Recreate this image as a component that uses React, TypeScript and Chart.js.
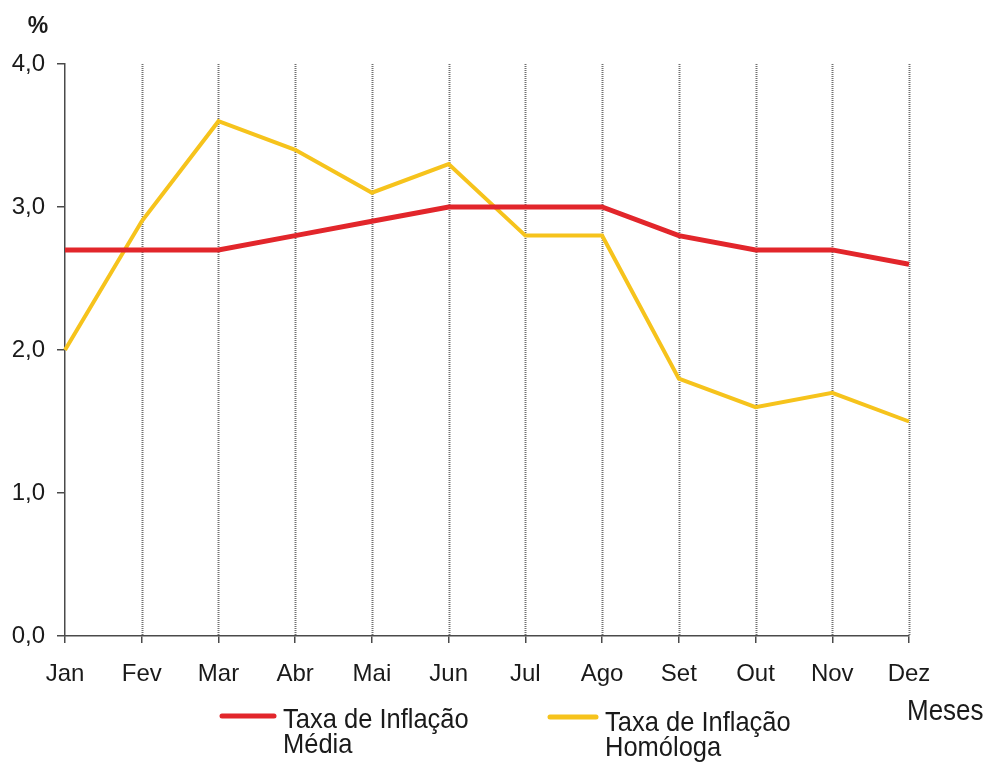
import React, { useEffect, useRef } from "react";
import { Chart, registerables } from "chart.js";

Chart.register(...registerables);

const months = ["Jan", "Fev", "Mar", "Abr", "Mai", "Jun", "Jul", "Ago", "Set", "Out", "Nov", "Dez"];
const mediaValues = [2.7, 2.7, 2.7, 2.8, 2.9, 3.0, 3.0, 3.0, 2.8, 2.7, 2.7, 2.6];
const homologaValues = [2.0, 2.9, 3.6, 3.4, 3.1, 3.3, 2.8, 2.8, 1.8, 1.6, 1.7, 1.5];
const mediaLabel = ["Taxa de Inflação", "Média"];
const homologaLabel = ["Taxa de Inflação", "Homóloga"];
const yUnit = "%";
const xTitle = "Meses";

const RED = "#e2262b";
const YELLOW = "#f6c31c";
const FONT = "'Liberation Sans', Arial, Helvetica, sans-serif";
const AXIS = "#4a4a4a";

const extrasPlugin = {
  id: "extras",
  beforeDatasetsDraw(chart: any) {
    const { ctx, chartArea, scales } = chart;
    const x = scales.x;
    ctx.save();
    ctx.strokeStyle = "#707070";
    ctx.lineWidth = 2;
    ctx.setLineDash([1, 1]);
    for (let i = 1; i < months.length; i++) {
      const px = Math.round(x.getPixelForValue(i)) + 0.5;
      ctx.beginPath();
      ctx.moveTo(px, chartArea.top);
      ctx.lineTo(px, chartArea.bottom);
      ctx.stroke();
    }
    ctx.restore();
  },
  afterDraw(chart: any) {
    const { ctx } = chart;
    ctx.save();
    ctx.fillStyle = "#1a1a1a";
    ctx.textBaseline = "alphabetic";
    // unit label
    ctx.font = `bold 23px ${FONT}`;
    ctx.textAlign = "center";
    ctx.fillText(yUnit, 38, 33);
    // text with slight vertical stretch, like the reference
    const stretched = (t: string, x: number, y: number) => {
      ctx.save();
      ctx.translate(x, y);
      ctx.scale(1, 1.1);
      ctx.fillText(t, 0, 0);
      ctx.restore();
    };
    ctx.textAlign = "left";
    ctx.font = `26px ${FONT}`;
    stretched(xTitle, 907, 720);
    // legend
    const drawItem = (color: string, x1: number, x2: number, ly: number, tx: number, lines: string[], by: number) => {
      ctx.strokeStyle = color;
      ctx.lineWidth = 5;
      ctx.lineCap = "round";
      ctx.beginPath();
      ctx.moveTo(x1, ly);
      ctx.lineTo(x2, ly);
      ctx.stroke();
      ctx.fillStyle = "#1a1a1a";
      ctx.font = `25.5px ${FONT}`;
      lines.forEach((t, i) => stretched(t, tx, by + i * 25));
    };
    drawItem(RED, 222, 274, 716, 283, mediaLabel, 728);
    drawItem(YELLOW, 550, 596, 717, 605, homologaLabel, 731);
    ctx.restore();
  },
};

export default function App() {
  const ref = useRef<HTMLCanvasElement | null>(null);
  useEffect(() => {
    if (!ref.current) return;
    const chart = new Chart(ref.current, {
      type: "line",
      data: {
        labels: months,
        datasets: [
          {
            label: mediaLabel.join(" "),
            data: mediaValues,
            borderColor: RED,
            backgroundColor: RED,
            borderWidth: 5,
            pointRadius: 0,
            tension: 0,
          },
          {
            label: homologaLabel.join(" "),
            data: homologaValues,
            borderColor: YELLOW,
            backgroundColor: YELLOW,
            borderWidth: 4,
            pointRadius: 0,
            tension: 0,
          },
        ],
      },
      options: {
        animation: false,
        responsive: false,
        maintainAspectRatio: false,
        layout: { padding: { top: 64, right: 80, left: 0, bottom: 0 } },
        plugins: { legend: { display: false }, tooltip: { enabled: false } },
        scales: {
          x: {
            offset: false,
            border: { display: true, color: AXIS, width: 1.5 },
            grid: { display: true, drawOnChartArea: false, drawTicks: true, tickLength: 7, color: AXIS, lineWidth: 1.5 },
            ticks: { color: "#1a1a1a", font: { family: FONT, size: 24 }, padding: 17, maxRotation: 0, autoSkip: false },
            afterFit(scale: any) {
              scale.height = 127;
              scale.paddingLeft = 0;
              scale.paddingRight = 0;
            },
          },
          y: {
            min: 0,
            max: 4,
            border: { display: true, color: AXIS, width: 1.5 },
            grid: { display: true, drawOnChartArea: false, drawTicks: true, tickLength: 8, color: AXIS, lineWidth: 1.5 },
            ticks: {
              stepSize: 1,
              color: "#1a1a1a",
              font: { family: FONT, size: 24 },
              padding: 12,
              callback: (v: any) => Number(v).toFixed(1).replace(".", ","),
            },
            afterFit(scale: any) {
              scale.width = 65;
              scale.paddingTop = 0;
              scale.paddingBottom = 0;
            },
          },
        },
      },
      plugins: [extrasPlugin],
    });
    return () => chart.destroy();
  }, []);
  return (
    <div style={{ position: "fixed", left: 0, top: 0, width: 989, height: 763, background: "#fff" }}>
      <canvas ref={ref} width={989} height={763} style={{ width: 989, height: 763 }} />
    </div>
  );
}
